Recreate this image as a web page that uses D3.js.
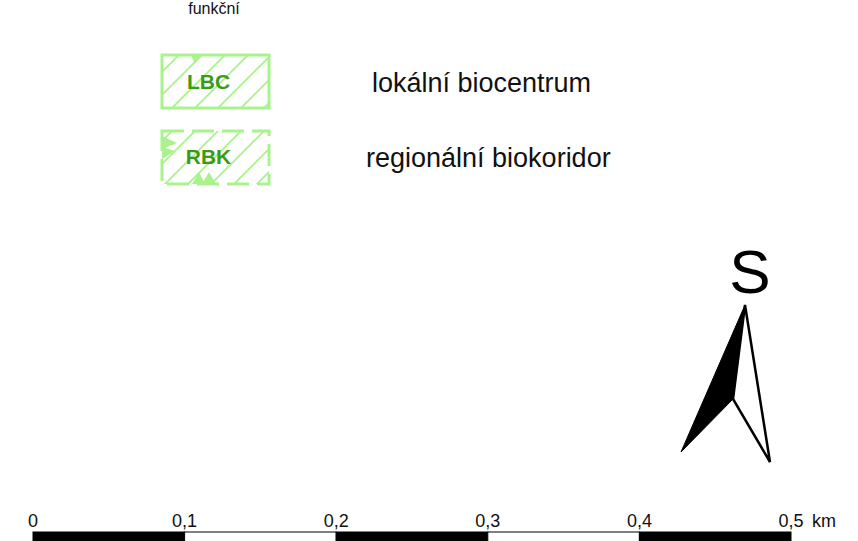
<!DOCTYPE html>
<html><head><meta charset="utf-8">
<script src="https://cdn.jsdelivr.net/npm/d3@7/dist/d3.min.js"></script>
<style>body{margin:0;background:#fff}svg{display:block}</style>
</head><body>
<script>
const scaleTicks = [0, 0.1, 0.2, 0.3, 0.4, 0.5];
const scaleLabels = ["0", "0,1", "0,2", "0,3", "0,4", "0,5"];
const scaleUnit = "km";
const legendCodes = ["LBC", "RBK"];
const legendNames = ["lokální biocentrum", "regionální biokoridor"];
const legendDashed = [false, true];
const headerText = "funkční";
const northLabel = "S";

const W = 858, H = 541;
const FF = "'Liberation Sans', Arial, sans-serif";
const FN = "'Liberation Sans Narrow', 'Arial Narrow', 'Liberation Sans', sans-serif";
const light = "#a8f38c", dark = "#3a9b16";
const svg = d3.select("body").append("svg").attr("width", W).attr("height", H);
const defs = svg.append("defs");
const pat = defs.append("pattern").attr("id", "hatch").attr("patternUnits", "userSpaceOnUse")
  .attr("width", 23).attr("height", 23).attr("patternTransform", "translate(4,0)");
pat.append("path").attr("d", "M-2,25 L25,-2 M-2,2 L2,-2 M21,25 L25,21").attr("stroke", light).attr("stroke-width", 1.8);

svg.append("text").attr("x", 214).attr("y", 14).attr("text-anchor", "middle")
  .attr("font-family", FF).attr("font-size", 16).attr("fill", "#111").text(headerText);

const ly = d3.scaleBand().domain(legendCodes).range([55, 184]).paddingInner(0.3026).paddingOuter(0);
legendCodes.forEach((c, i) => {
  const y = ly(c), h = ly.bandwidth(), x = 162, w = 107;
  const g = svg.append("g");
  g.append("rect").attr("x", x).attr("y", y).attr("width", w).attr("height", h).attr("fill", "url(#hatch)");
  g.append("rect").attr("x", x).attr("y", y).attr("width", w).attr("height", h).attr("fill", "none")
    .attr("stroke", light).attr("stroke-width", 3)
    .attr("stroke-dasharray", legendDashed[i] ? "22,8" : null);
  if (!legendDashed[i]) {
    g.append("path").attr("d", `M${x+29},${y} L${x+38},${y} L${x+33},${y+9} Z`).attr("fill", light);
  } else {
    g.append("path").attr("d", `M${x},${y+5} L${x+15},${y+12} L${x},${y+18} Z M${x},${y+16} L${x+13},${y+20} L${x},${y+28} Z`).attr("fill", light);
    g.append("path").attr("d", `M${x+30},${y+h} L${x+37},${y+h-12} L${x+43},${y+h} Z M${x+40},${y+h} L${x+47},${y+h-12} L${x+54},${y+h} Z`).attr("fill", light);
  }
  g.append("text").attr("x", x + w/2 - 7).attr("y", y + h/2 + 7).attr("text-anchor", "middle")
    .attr("font-family", FF).attr("font-weight", "bold").attr("font-size", 21)
    .attr("fill", dark).text(c);
  svg.append("text").attr("x", legendDashed[i] ? 366 : 372).attr("y", y + h/2 + 10)
    .attr("font-family", FF).attr("font-size", 27).attr("fill", "#111").text(legendNames[i]);
});

// north arrow
const na = svg.append("g");
na.append("text").attr("x", 750).attr("y", 293).attr("text-anchor", "middle")
  .attr("font-family", FF).attr("font-size", 62).attr("fill", "#000").text(northLabel);
na.append("path").attr("d", "M745,305 L770,462 L733,399 Z").attr("fill", "#fff").attr("stroke", "#000").attr("stroke-width", 2.5).attr("stroke-linejoin", "miter");
na.append("path").attr("d", "M745,305 L733,399 L681,452 Z").attr("fill", "#000").attr("stroke", "#000").attr("stroke-width", 1);

// scale bar
const sx = d3.scaleLinear().domain([0, 0.5]).range([33, 791]);
const sb = svg.append("g");
const segs = d3.pairs(scaleTicks);
sb.selectAll("rect").data(segs).join("rect")
  .attr("x", d => sx(d[0])).attr("y", 532).attr("width", d => sx(d[1]) - sx(d[0])).attr("height", 14)
  .attr("fill", (d, i) => i % 2 === 0 ? "#000" : "#fff").attr("stroke", "#000").attr("stroke-width", 1);
sb.selectAll("text.t").data(scaleTicks).join("text").attr("class", "t")
  .attr("x", d => sx(d)).attr("y", 527).attr("text-anchor", "middle")
  .attr("font-family", FN).attr("font-size", 18).attr("fill", "#111")
  .text((d, i) => scaleLabels[i]);
sb.append("text").attr("x", sx(0.5) + 21).attr("y", 527)
  .attr("font-family", FN).attr("font-size", 18).attr("fill", "#111").text(scaleUnit);
</script>
</body></html>
